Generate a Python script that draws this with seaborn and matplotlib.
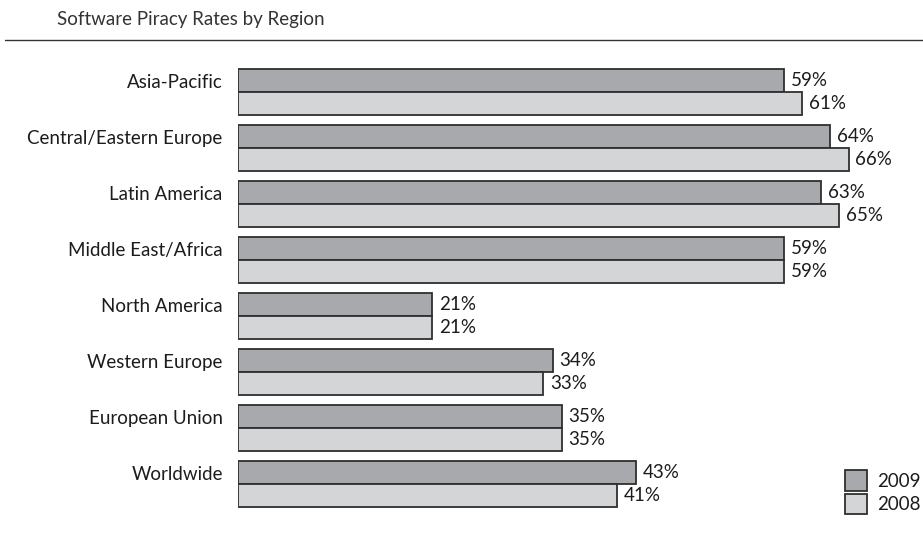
import matplotlib
matplotlib.use("Agg")
import matplotlib.pyplot as plt
import seaborn as sns
import pandas as pd
import numpy as np
from matplotlib.patches import Patch

regions = ["Asia-Pacific", "Central/Eastern Europe", "Latin America",
           "Middle East/Africa", "North America", "Western Europe",
           "European Union", "Worldwide"]
rate_2009 = [59, 64, 63, 59, 21, 34, 35, 43]
rate_2008 = [61, 66, 65, 59, 21, 33, 35, 41]
years = ["2009", "2008"]

df = pd.DataFrame({
    "Region": regions * 2,
    "Rate": rate_2009 + rate_2008,
    "Year": [years[0]] * len(regions) + [years[1]] * len(regions),
})

sns.set_theme(style="white")
plt.rcParams["font.family"] = ["Lato", "DejaVu Sans"]

FS = 13.5
TXT = "#1c1c1c"
colors = {"2009": "#a8a9ac", "2008": "#d4d5d7"}
edge = "#2f2f2f"

fig = plt.figure(figsize=(9.23, 5.33), dpi=100)
ax = fig.add_axes([238 / 923, 1 - 512 / 533, 647.5 / 923, 448 / 533])

bw = 0.82
sns.barplot(data=df, y="Region", x="Rate", hue="Year", order=regions,
            hue_order=years, palette=colors, orient="h", width=bw,
            dodge=True, edgecolor=edge, linewidth=1.3, saturation=1,
            legend=False, ax=ax)

ax.set_xlim(0, 70)
ax.set_ylim(len(regions) - 0.5, -0.5)

# value labels at the end of every bar
for cont in ax.containers:
    ax.bar_label(cont, labels=[f"{int(v)}%" for v in cont.datavalues],
                 padding=5, fontsize=FS, color=TXT)

# category labels aligned with the 2009 bar of each group
off = bw / 4
ax.set_yticks(np.arange(len(regions)) - off)
ax.set_yticklabels(regions, fontsize=FS, color=TXT)
ax.tick_params(axis="y", length=0, pad=11)
ax.set_xticks([])
ax.set_xlabel("")
ax.set_ylabel("")
for s in ax.spines.values():
    s.set_visible(False)

# legend
handles = [Patch(facecolor=colors[y], edgecolor=edge, linewidth=1.3) for y in years]
fig.legend(handles, years, loc="lower right", bbox_to_anchor=(921 / 923, 1 - 514 / 533),
           frameon=False, fontsize=FS, handlelength=1.2, handleheight=1.3,
           handletextpad=0.55, labelspacing=0.15, borderpad=0, borderaxespad=0,
           labelcolor=TXT)

# title and rule
fig.text(57 / 923, 1 - 20 / 533, "Software Piracy Rates by Region",
         fontsize=FS, color="#333333", ha="left", va="center")
fig.add_artist(plt.Line2D([5 / 923, 1], [1 - 40 / 533, 1 - 40 / 533],
                          color="#333333", linewidth=1.0))

fig.savefig("out.png", dpi=100)
